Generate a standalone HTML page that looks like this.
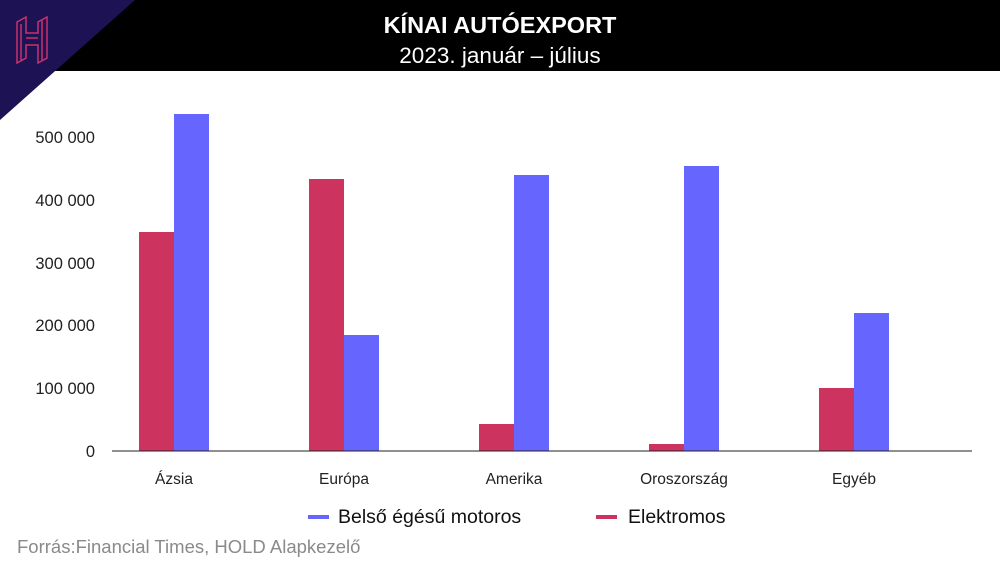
<!DOCTYPE html>
<html><head><meta charset="utf-8"><style>
html,body{margin:0;padding:0;background:#fff}
svg{display:block}
text{font-family:"Liberation Sans","DejaVu Sans",sans-serif}
</style></head><body>
<svg width="1000" height="563" viewBox="0 0 1000 563" xmlns="http://www.w3.org/2000/svg">
<rect x="0" y="0" width="1000" height="71" fill="#000"/>
<polygon points="0,0 135,0 0,120" fill="#1c1254"/>
<g fill="none" stroke="#c8336b" stroke-width="1.5">
<path d="M17,22 L26,17 L26,33 L38,33 L38,22 L47,17 L47,58 L38,63 L38,45 L26,45 L26,58 L17,63 Z"/>
<path d="M21,24 L21,60 M42,20 L42,60 M26,38 L38,38"/>
</g>
<text x="500" y="33" text-anchor="middle" fill="#fff" font-size="23.5" font-weight="bold">KÍNAI AUTÓEXPORT</text>
<text x="500" y="63" text-anchor="middle" fill="#fff" font-size="22.5">2023. január – július</text>
<g font-size="16.5" fill="#222" text-anchor="end">
<text x="95" y="143">500 000</text>
<text x="95" y="206">400 000</text>
<text x="95" y="269">300 000</text>
<text x="95" y="331">200 000</text>
<text x="95" y="394">100 000</text>
<text x="95" y="457">0</text>
</g>
<g fill="#cc335f">
<rect x="139" y="232" width="35" height="219"/>
<rect x="309" y="179" width="35" height="272"/>
<rect x="479" y="424" width="35" height="27"/>
<rect x="649" y="444" width="35" height="7"/>
<rect x="819" y="388" width="35" height="63"/>
</g>
<g fill="#6666ff">
<rect x="174" y="114" width="35" height="337"/>
<rect x="344" y="335" width="35" height="116"/>
<rect x="514" y="175" width="35" height="276"/>
<rect x="684" y="166" width="35" height="285"/>
<rect x="854" y="313" width="35" height="138"/>
</g>
<line x1="112" y1="451" x2="972" y2="451" stroke="#222" stroke-width="1"/>
<g font-size="15.5" fill="#222" text-anchor="middle">
<text x="174" y="484">Ázsia</text>
<text x="344" y="484">Európa</text>
<text x="514" y="484">Amerika</text>
<text x="684" y="484">Oroszország</text>
<text x="854" y="484">Egyéb</text>
</g>
<line x1="308" y1="517" x2="329" y2="517" stroke="#6666ff" stroke-width="4"/>
<text x="338" y="523" font-size="19.5" fill="#111">Belső égésű motoros</text>
<line x1="596" y1="517" x2="617" y2="517" stroke="#cc335f" stroke-width="4"/>
<text x="628" y="523" font-size="19.5" fill="#111">Elektromos</text>
<text x="17" y="553" font-size="18.5" fill="#8a8a8a">Forrás:Financial Times, HOLD Alapkezelő</text>
</svg>
</body></html>
